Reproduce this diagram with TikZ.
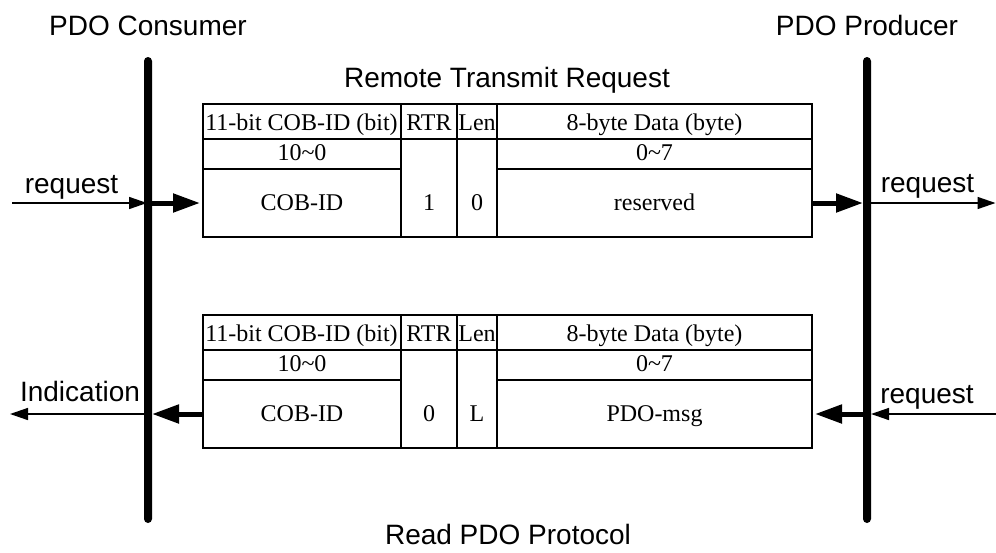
\documentclass[tikz,border=0pt]{standalone}
\usepackage{fontspec}
\setmainfont{Liberation Serif}
\newfontfamily\lsans{Liberation Sans}
\usetikzlibrary{arrows.meta}
\tikzset{
  cellbox/.style={draw, line width=1.1pt, inner sep=0pt, outer sep=0pt, anchor=north west},
  celltext/.style={anchor=base, inner sep=0pt, font=\fontsize{24}{24}\selectfont},
  sanslabel/.style={anchor=base, inner sep=0pt, font=\lsans\fontsize{28}{28}\selectfont},
  lifebar/.style={fill=black, inner sep=0pt, outer sep=0pt, minimum width=8pt, minimum height=466pt, rounded corners=4pt},
  thinarrow/.style={line width=1.5pt, -{Triangle[length=18pt,width=12pt]}},
  thickarrow/.style={line width=5pt, -{Triangle[length=27pt,width=18pt]}},
}
\newcommand\pdotable[5]{%
  \node[cellbox, minimum width=198pt, minimum height=35pt] (#1cobh) at (203,#2) {};
  \node[cellbox, minimum width=56pt, minimum height=35pt] (#1rtrh) at (401,#2) {};
  \node[cellbox, minimum width=40pt, minimum height=35pt] (#1lenh) at (457,#2) {};
  \node[cellbox, minimum width=315pt, minimum height=35pt] (#1datah) at (497,#2) {};
  \node[cellbox, minimum width=198pt, minimum height=30pt] (#1bits) at (203,{#2+35}) {};
  \node[cellbox, minimum width=56pt, minimum height=98pt] (#1rtr) at (401,{#2+35}) {};
  \node[cellbox, minimum width=40pt, minimum height=98pt] (#1len) at (457,{#2+35}) {};
  \node[cellbox, minimum width=315pt, minimum height=30pt] (#1bytes) at (497,{#2+35}) {};
  \node[cellbox, minimum width=198pt, minimum height=68pt] (#1cob) at (203,{#2+65}) {};
  \node[cellbox, minimum width=315pt, minimum height=68pt] (#1data) at (497,{#2+65}) {};
  \node[celltext] (#1cobht) at (301.5,{#2+26}) {11-bit COB-ID (bit)};
  \node[celltext] (#1rtrht) at (429,{#2+26}) {RTR};
  \node[celltext] (#1lenht) at (477,{#2+26}) {Len};
  \node[celltext] (#1dataht) at (654.5,{#2+26}) {8-byte Data (byte)};
  \node[celltext] (#1bitst) at (302,{#2+56}) {10\textasciitilde 0};
  \node[celltext] (#1bytest) at (654.5,{#2+56}) {0\textasciitilde 7};
  \node[celltext] (#1cobt) at (302,{#2+106}) {COB-ID};
  \node[celltext] (#1rtrt) at (429,{#2+106}) {#3};
  \node[celltext] (#1lent) at (477,{#2+106}) {#4};
  \node[celltext] (#1datat) at (654.5,{#2+106}) {#5};
}
\begin{document}
\begin{tikzpicture}[x=1pt,y=-1pt]
  \useasboundingbox (0,0) rectangle (996,552);
  % titles
  \node[sanslabel] (consumer) at (148,35) {PDO Consumer};
  \node[sanslabel] (producer) at (867,35) {PDO Producer};
  \node[sanslabel] (rtrtitle) at (507,87) {Remote Transmit Request};
  \node[sanslabel] (readtitle) at (508,544) {Read PDO Protocol};
  % lifelines
  \node[lifebar] (cons) at (148,290) {};
  \node[lifebar] (prod) at (867,290) {};
  % tables
  \pdotable{ta}{104}{1}{0}{reserved}
  \pdotable{tb}{315}{0}{L}{PDO-msg}
  % free ends
  \coordinate (inL) at (12,203);
  \coordinate (outR) at (996,203);
  \coordinate (inR) at (996,414);
  \coordinate (outL) at (10,414);
  % labels
  \node[sanslabel] (reqL) at (71.5,193) {request};
  \node[sanslabel] (reqR) at (927.5,192) {request};
  \node[sanslabel] (indL) at (80,401) {Indication};
  \node[sanslabel] (reqR2) at (927,403) {request};
  % top arrows
  \draw[thinarrow, shorten >=1pt] (inL) -- (cons.center |- inL);
  \draw[thickarrow, shorten >=3pt] (cons.east |- tacob.west) -- (tacob.west);
  \draw[thickarrow] (tadata.east) -- (prod.west |- tadata.east);
  \draw[thinarrow, shorten >=0.5pt] (prod.east |- outR) -- (outR);
  % bottom arrows
  \draw[thinarrow] (inR) -- (prod.east |- inR);
  \draw[thickarrow, shorten >=3pt] (prod.west |- tbdata.east) -- (tbdata.east);
  \draw[thickarrow] (tbcob.west) -- (cons.east |- tbcob.west);
  \draw[thinarrow] (cons.west |- outL) -- (outL);
\end{tikzpicture}
\end{document}
